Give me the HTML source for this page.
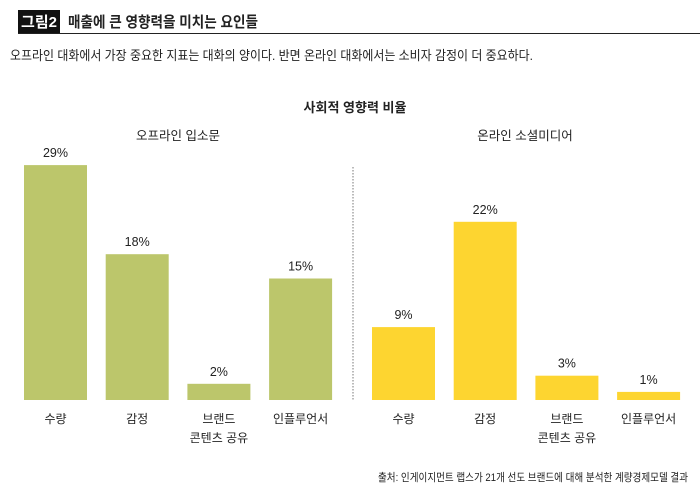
<!DOCTYPE html>
<html><head><meta charset="utf-8"><style>
body{margin:0;background:#fff;}
svg text{font-family:"Liberation Sans","Noto Sans CJK KR",sans-serif;fill:#222;}
</style></head><body>
<svg width="700" height="494" viewBox="0 0 700 494">
<rect x="18" y="10" width="42" height="23" fill="#111"/>
<text x="39" y="27" font-size="15" font-weight="bold" text-anchor="middle" style="fill:#fff">그림2</text>
<line x1="18" y1="33.5" x2="700" y2="33.5" stroke="#222" stroke-width="1"/>
<text x="68" y="27" font-size="15" font-weight="bold" textLength="190" lengthAdjust="spacingAndGlyphs">매출에 큰 영향력을 미치는 요인들</text>
<text x="10" y="60" font-size="13" textLength="523" lengthAdjust="spacingAndGlyphs">오프라인 대화에서 가장 중요한 지표는 대화의 양이다. 반면 온라인 대화에서는 소비자 감정이 더 중요하다.</text>
<text x="355" y="112" font-size="13" font-weight="bold" text-anchor="middle">사회적 영향력 비율</text>
<text x="178" y="140" font-size="12.5" text-anchor="middle">오프라인 입소문</text>
<text x="525" y="140" font-size="12.5" text-anchor="middle">온라인 소셜미디어</text>
<line x1="353" y1="167" x2="353" y2="400" stroke="#777" stroke-width="1" stroke-dasharray="1.5,1.5"/>
<g id="bars"></g>
<text x="378" y="481" font-size="11" textLength="310" lengthAdjust="spacingAndGlyphs">출처: 인게이지먼트 랩스가 21개 선도 브랜드에 대해 분석한 계량경제모델 결과</text>
</svg>
<script>
const categories = [["수량"],["감정"],["브랜드","콘텐츠 공유"],["인플루언서"]];
const offlineValues = [29, 18, 2, 15];
const onlineValues = [9, 22, 3, 1];
const baseY = 400, pxPer = 8.1, barW = 63;
function y(v){ return baseY - v * pxPer; }
const g = document.getElementById('bars');
const NS = 'http://www.w3.org/2000/svg';
function drawGroup(vals, x0, color, prefix){
  vals.forEach((v,i)=>{
    const x = x0 + i*81.7;
    const r = document.createElementNS(NS,'rect');
    r.setAttribute('x',x); r.setAttribute('y',y(v));
    r.setAttribute('width',barW); r.setAttribute('height',baseY - y(v));
    r.setAttribute('fill',color);
    
    
    g.appendChild(r);
    const t = document.createElementNS(NS,'text');
    t.setAttribute('x',x+barW/2); t.setAttribute('y',y(v)-8);
    t.setAttribute('font-size','12.5'); t.setAttribute('text-anchor','middle');
    t.textContent = v + '%';
    
    
    g.appendChild(t);
    categories[i].forEach((line,j)=>{
      const c = document.createElementNS(NS,'text');
      c.setAttribute('x',x+barW/2); c.setAttribute('y',423 + j*19);
      c.setAttribute('font-size','12'); c.setAttribute('text-anchor','middle');
      c.textContent = line;
      
      
      g.appendChild(c);
    });
  });
}
drawGroup(offlineValues, 24, '#bcc66b', 'offline');
drawGroup(onlineValues, 372, '#fdd530', 'online');
</script>
</body></html>
